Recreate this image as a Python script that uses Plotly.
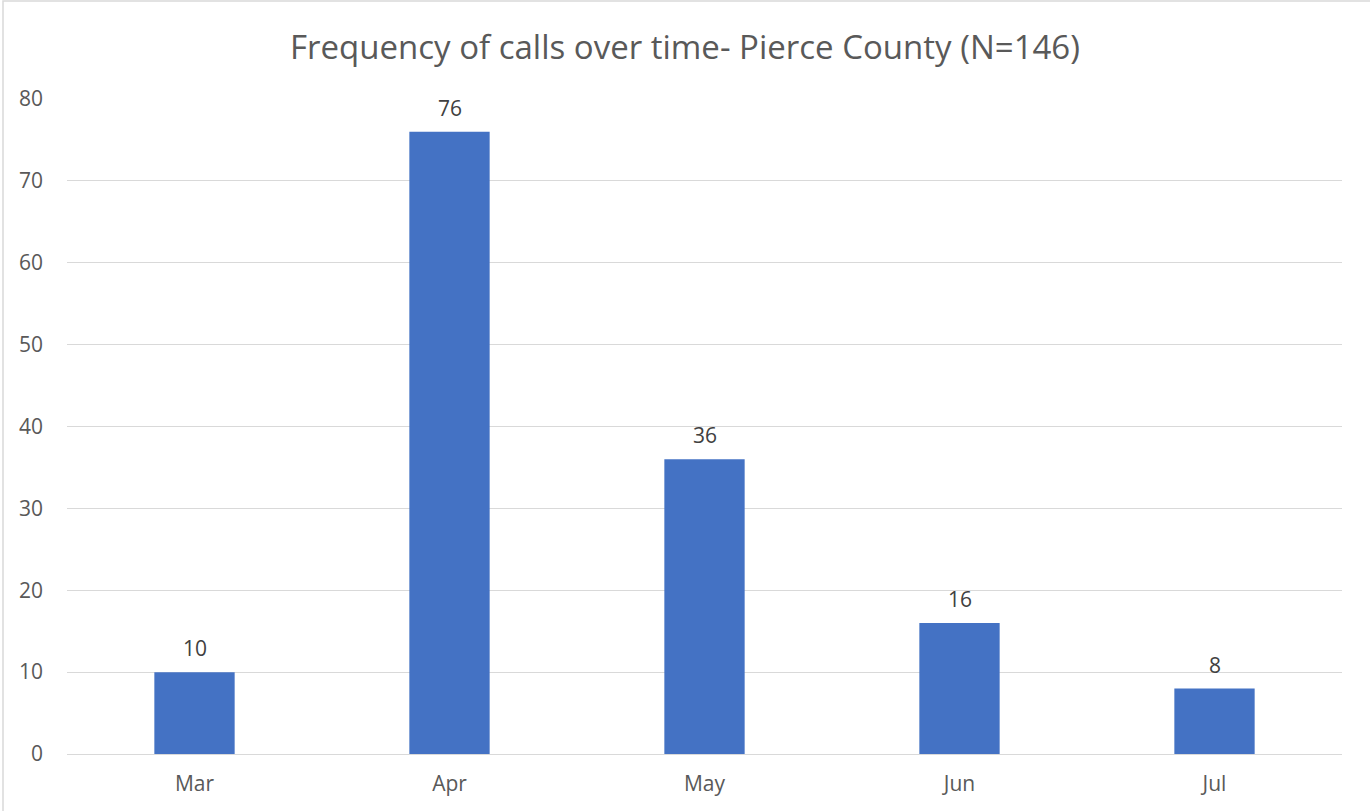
import plotly.graph_objects as go

months = ["Mar", "Apr", "May", "Jun", "Jul"]
calls = [10, 76, 36, 16, 8]
y_ticks = [0, 10, 20, 30, 40, 50, 60, 70, 80]
title = "Frequency of calls over time- Pierce County (N=146)"

L, R, T, B = 67, 28, 99, 57
W, H = 1370, 811
pw, ph = W - L - R, H - T - B
FONT = "Open Sans"

fig = go.Figure(go.Bar(
    x=months, y=calls,
    marker=dict(color="#4472C4", line=dict(width=0)),
    width=0.315,
    hoverinfo="x+y",
))

for m, v in zip(months, calls):
    fig.add_annotation(x=m, y=v, text=str(v), showarrow=False, yanchor="middle",
                       yshift=24, font=dict(size=21, color="#404040", family=FONT))

fig.update_layout(
    width=W, height=H,
    margin=dict(l=L, r=R, t=T, b=B),
    plot_bgcolor="white", paper_bgcolor="white",
    font=dict(family=FONT, color="#595959"),
    title=dict(text=title, x=0.5, xanchor="center", y=1 - 47 / H, yanchor="middle",
               font=dict(size=33, color="#595959", family=FONT)),
    showlegend=False,
)
fig.update_xaxes(showgrid=False, showline=False, ticks="", tickfont=dict(size=21, color="#595959"),
                 ticklabelstandoff=15)
fig.update_yaxes(range=[0, 80], tickvals=y_ticks, showgrid=True, gridcolor="#D9D9D9", gridwidth=1.3,
                 zeroline=True, zerolinecolor="#D9D9D9", zerolinewidth=1.3, showline=False,
                 tickfont=dict(size=21, color="#595959"), ticklabelstandoff=23)

fig.add_shape(type="rect", xref="paper", yref="paper",
              x0=(3 - L) / pw, x1=(W + 20 - L) / pw,
              y0=(H - B - (H + 20)) / ph, y1=(H - B - 1) / ph,
              line=dict(color="#D9D9D9", width=1.5), fillcolor="rgba(0,0,0,0)", layer="below")

fig.write_html("out.html", config={"displayModeBar": False},
               post_script="document.body.style.margin='0';document.body.style.overflow='hidden';")
